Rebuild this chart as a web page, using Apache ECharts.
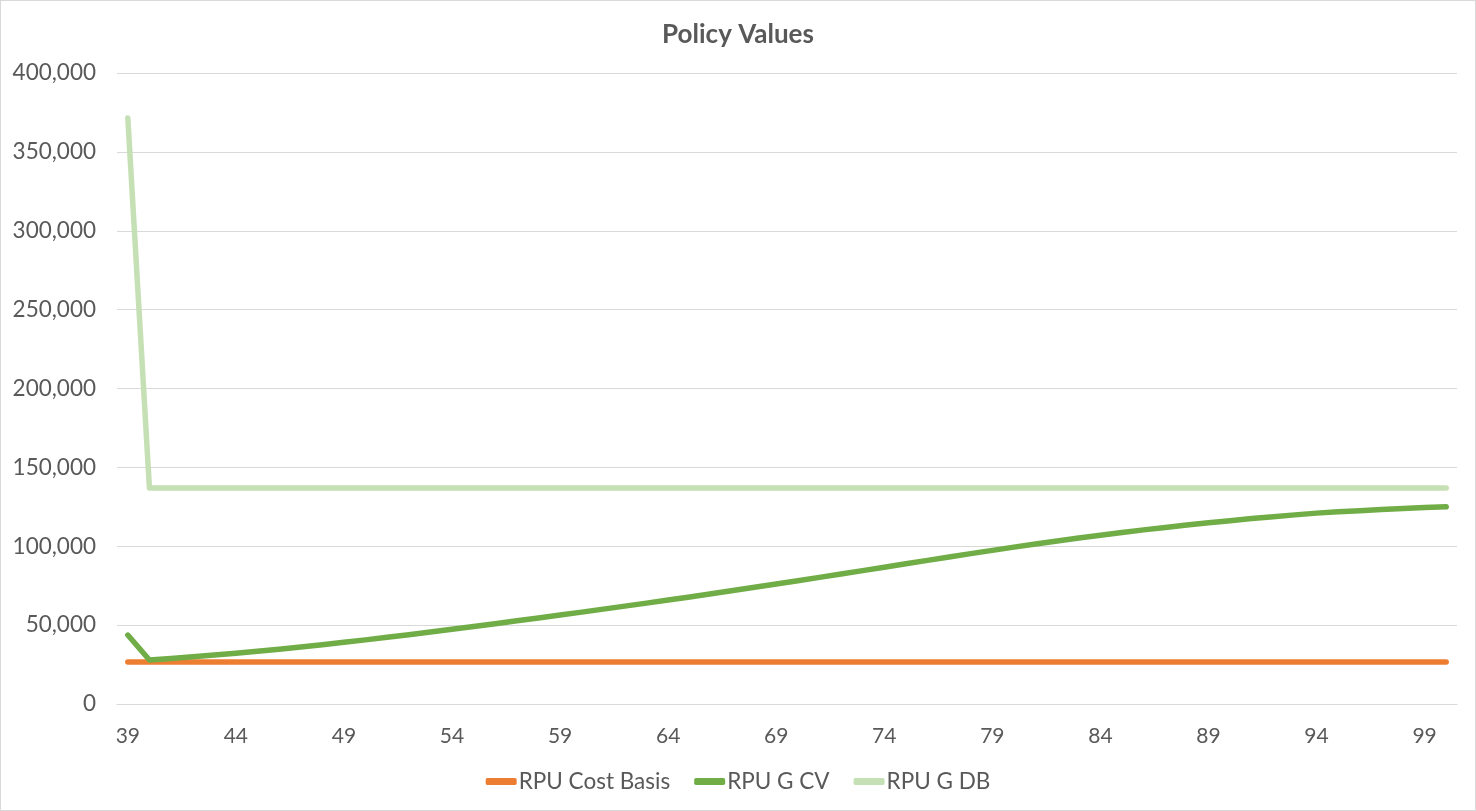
<!DOCTYPE html>
<html>
<head>
<meta charset="utf-8">
<script src="https://cdn.jsdelivr.net/npm/echarts@6/dist/echarts.min.js"></script>
<style>
html,body{margin:0;padding:0;background:#fff;}
#c{width:1474px;height:809px;border:1px solid #D9D9D9;}
</style>
</head>
<body>
<div id="c"></div>
<script>
const ages = [];
for (let a = 39; a <= 100; a++) ages.push(String(a));

const costBasis = [26700,26700,26700,26700,26700,26700,26700,26700,26700,26700,
  26700,26700,26700,26700,26700,26700,26700,26700,26700,26700,
  26700,26700,26700,26700,26700,26700,26700,26700,26700,26700,
  26700,26700,26700,26700,26700,26700,26700,26700,26700,26700,
  26700,26700,26700,26700,26700,26700,26700,26700,26700,26700,
  26700,26700,26700,26700,26700,26700,26700,26700,26700,26700,
  26700,26700];

const gCV = [43700,27900,28900,29900,31000,32100,33400,34750,36150,37600,
  39100,40650,42250,43900,45600,47400,49150,50930,52730,54550,
  56390,58250,60130,62030,63950,65900,67880,69880,71910,73960,
  76040,78140,80260,82390,84530,86700,88870,91040,93190,95310,
  97390,99430,101420,103350,105220,107000,108720,110370,111940,113440,
  114860,116220,117520,118740,119890,121000,121800,122550,123250,123900,
  124500,125000];

const gDB = [371500,137000,137000,137000,137000,137000,137000,137000,137000,137000,
  137000,137000,137000,137000,137000,137000,137000,137000,137000,137000,
  137000,137000,137000,137000,137000,137000,137000,137000,137000,137000,
  137000,137000,137000,137000,137000,137000,137000,137000,137000,137000,
  137000,137000,137000,137000,137000,137000,137000,137000,137000,137000,
  137000,137000,137000,137000,137000,137000,137000,137000,137000,137000,
  137000,137000];

const seriesNames = ['RPU Cost Basis','RPU G CV','RPU G DB'];
const colors = ['#ED7D31','#70AD47','#C5E0B4'];

const chart = echarts.init(document.getElementById('c'));
const font = 'Lato, "Open Sans", sans-serif';
const mk = (name, data, color) => ({
  name, type: 'line', data, symbol: 'none', smooth: false,
  lineStyle: {width: 5.5, color, cap: 'round', join: 'round'},
  itemStyle: {color}
});
chart.setOption({
  animation: false,
  textStyle: {fontFamily: font},
  title: {
    text: 'Policy Values', left: 'center', top: 16,
    textStyle: {fontSize: 26, fontWeight: 'bold', color: '#595959', fontFamily: font}
  },
  legend: {
    bottom: 12, left: 'center', icon: 'roundRect', itemWidth: 31, itemHeight: 7, itemGap: 24,
    textStyle: {fontSize: 22.5, color: '#595959', fontFamily: font, padding: [0, 0, 0, -3]},
    data: seriesNames
  },
  grid: {left: 116, right: 18, top: 72, bottom: 106, containLabel: false},
  xAxis: {
    type: 'category', data: ages, boundaryGap: true,
    axisLine: {show: true, lineStyle: {color: '#D9D9D9'}},
    axisTick: {show: false},
    axisLabel: {interval: 4, fontSize: 21, color: '#595959', margin: 22, fontFamily: font}
  },
  yAxis: {
    type: 'value', min: 0, max: 400000, interval: 50000,
    axisLine: {show: false}, axisTick: {show: false},
    splitLine: {lineStyle: {color: '#D9D9D9', width: 1}},
    axisLabel: {
      fontSize: 22.5, color: '#595959', margin: 21, fontFamily: font,
      formatter: v => v.toLocaleString('en-US')
    }
  },
  series: [
    mk(seriesNames[0], costBasis, colors[0]),
    mk(seriesNames[1], gCV, colors[1]),
    mk(seriesNames[2], gDB, colors[2])
  ]
});
</script>
</body>
</html>
